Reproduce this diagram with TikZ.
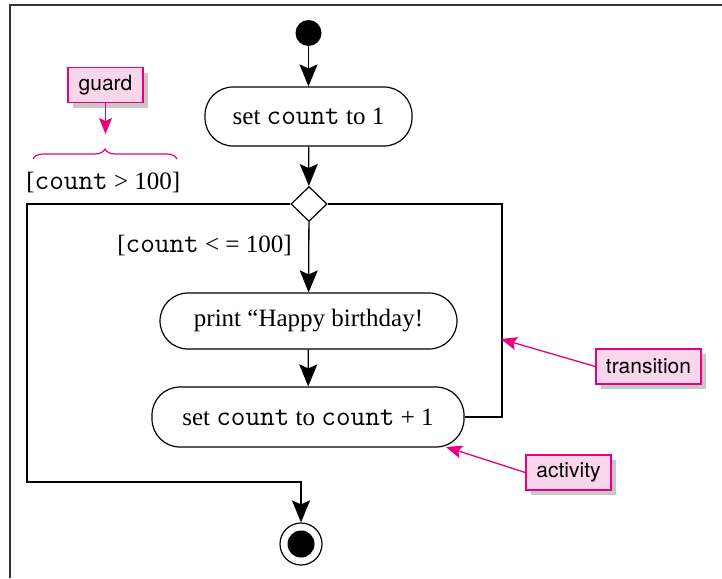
\documentclass[tikz,border=0pt]{standalone}
\usepackage{fontspec}
\setmainfont{Liberation Serif}
\setsansfont{TeX Gyre Heros}
\usepackage{xcolor}
\usetikzlibrary{arrows.meta,shapes.geometric,decorations.pathreplacing,shadows}

\definecolor{notepink}{RGB}{250,214,236}
\definecolor{noteline}{RGB}{230,0,126}

\newcommand{\cntword}{{\fontsize{14.2}{14.2}\ttfamily count}}

\begin{document}
\begin{tikzpicture}[
        x=0.5pt, y=-0.5pt,
        actbox/.style={rectangle, draw=black, line width=0.6pt, rounded corners=14pt, inner sep=0pt, align=center, font=\fontsize{12.5}{14}\selectfont},
        decision/.style={diamond, draw=black, line width=0.6pt, aspect=1, inner sep=0pt, minimum width=18pt, minimum height=17.5pt},
        startdot/.style={circle, fill=black, inner sep=0pt, minimum size=13pt},
        guardtext/.style={inner sep=0pt, font=\fontsize{12.5}{14}\selectfont},
        note/.style={rectangle, draw=noteline, fill=notepink, line width=0.7pt, inner sep=0pt, minimum height=17.5pt, font=\sffamily\fontsize{10.5}{12}\selectfont, drop shadow={shadow xshift=2.5pt, shadow yshift=-2.5pt, fill=black, opacity=0.22}},
        arrow/.style={-{Stealth[length=11pt, width=9pt, inset=2pt]}, line width=0.65pt},
        notearrow/.style={-{Stealth[length=8pt, width=6.5pt, inset=1.5pt]}, draw=noteline, line width=0.65pt}
    ]
    \useasboundingbox (0,0) rectangle (722,578);

    % Frame (top and left edge only)
    \draw[line width=0.9pt, black!80] (722,5) -- (10,5) -- (10,578);

    % === Activities ===
    \node[startdot] (start) at (308.5,33) {};
    \node[actbox, minimum width=103.5pt, minimum height=29.5pt] (init) at (308.5,116.5) {set \cntword{} to 1};
    \node[decision] (dec) at (309,204) {};
    \node[actbox, minimum width=148.5pt, minimum height=28pt] (print) at (308.5,321) {print “Happy birthday!};
    \node[actbox, minimum width=156pt, minimum height=30pt] (inc) at (308,417) {set \cntword{} to \cntword{} + 1};

    % Final node
    \node[circle, draw=black, line width=0.6pt, inner sep=0pt, minimum size=21pt] (final) at (301,544) {};
    \node[circle, fill=black, inner sep=0pt, minimum size=13.5pt] (finaldot) at (final) {};

    % === Guards ===
    \node[guardtext, anchor=west] (gexit) at (26,182) {[\cntword{} > 100]};
    \node[guardtext, anchor=east] (gloop) at (292,245) {[\cntword{} < = 100]};

    % === Transitions ===
    \coordinate (loopR) at (502,417);
    \coordinate (loopL) at (27,482);
    \draw[arrow] (start) -- (init);
    \draw[arrow] (init) -- (dec);
    \draw[arrow] (dec) -- (print);
    \draw[arrow] (print) -- (inc);
    \draw[line width=0.65pt] (inc.east) -- (loopR) |- (dec.east);
    \draw[arrow] (dec.west) -| (loopL) -| (final.north);

    % === Notes ===
    \node[note, minimum width=37.5pt] (guard) at (105.5,85) {guard};
    \node[note, minimum width=52.5pt] (trans) at (648.5,366.5) {transition};
    \node[note, minimum width=42.5pt] (act) at (568.5,472.5) {activity};

    \coordinate (guardtip) at (105.5,134);
    \coordinate (transtip) at (501,339);
    \coordinate (acttip) at (446,447);
    \coordinate (braceL) at (33,159);
    \coordinate (braceR) at (177,159);

    \draw[notearrow] (guard.south) -- (guardtip);
    \draw[notearrow] (trans.west) -- (transtip);
    \draw[notearrow] (act.west) -- (acttip);
    \draw[noteline, line width=0.6pt, decorate, decoration={brace, amplitude=5pt}] (braceL) -- (braceR);

\end{tikzpicture}
\end{document}
